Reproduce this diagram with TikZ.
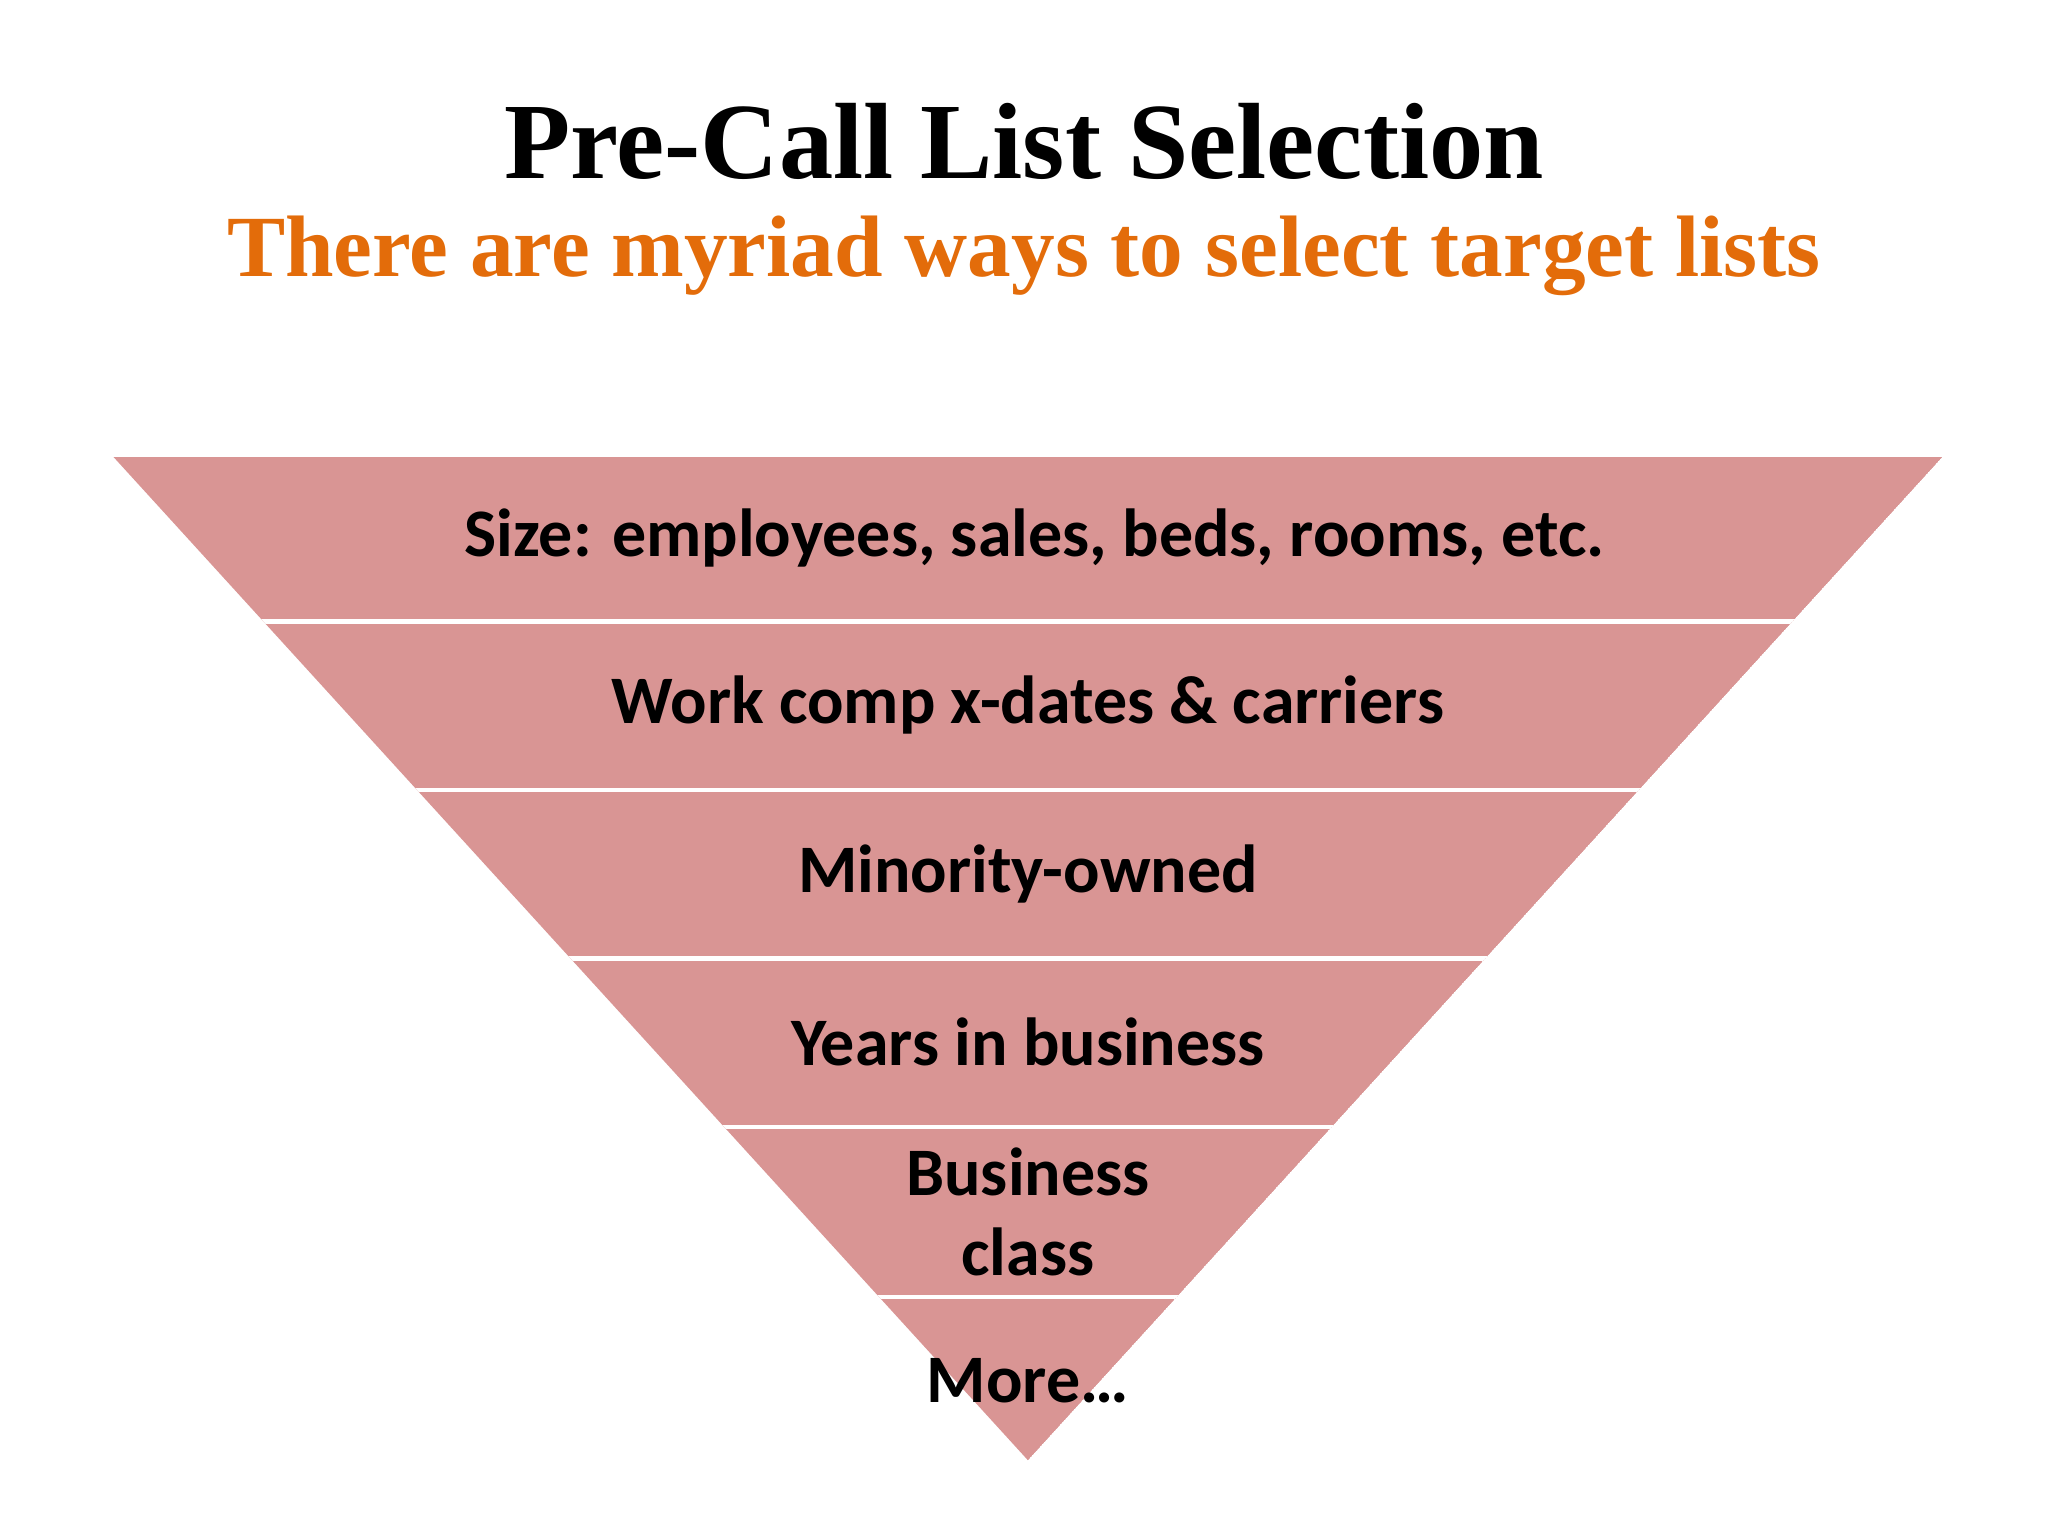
\documentclass[tikz,border=0pt]{standalone}
\usepackage{fontspec}
\setmainfont{Liberation Serif}
\newfontfamily\bandfont{Carlito}
\definecolor{band}{HTML}{D99594}
\definecolor{orng}{HTML}{E36C0A}
\begin{document}
\begin{tikzpicture}[x=0.01cm,y=-0.01cm,
  bandtxt/.style={font=\bandfont\bfseries\fontsize{14.8}{17.5}\selectfont,align=center,text=black}]
\useasboundingbox (0,0) rectangle (1568,1176);
\fill[white] (0,0) rectangle (1568,1176);
\node[font=\bfseries\fontsize{23.6}{27}\selectfont] (title) at (784,108) {Pre-Call List Selection};
\node[font=\bfseries\fontsize{19}{22}\selectfont,text=orng] (sub) at (784,196) {There are myriad ways to select target lists};
\begin{scope}
\clip (87,350) -- (1487,350) -- (787,1118) -- cycle;
\fill[band] (87,350) -- (1487,350) -- (787,1118) -- cycle;
\foreach \y in {476,605,734,863,993} \draw[white,line width=1pt] (0,\y) -- (1568,\y);
\end{scope}
\node[bandtxt] (b1) at (792,412) {Size: employees, sales, beds, rooms, etc.};
\node[bandtxt] (b2) at (787,540) {Work comp x-dates \& carriers};
\node[bandtxt] (b3) at (787,669) {Minority-owned};
\node[bandtxt] (b4) at (787,798) {Years in business};
\node[bandtxt] (b5) at (787,928) {Business\\class};
\node[bandtxt] (b6) at (787,1057) {More…};
\end{tikzpicture}
\end{document}
